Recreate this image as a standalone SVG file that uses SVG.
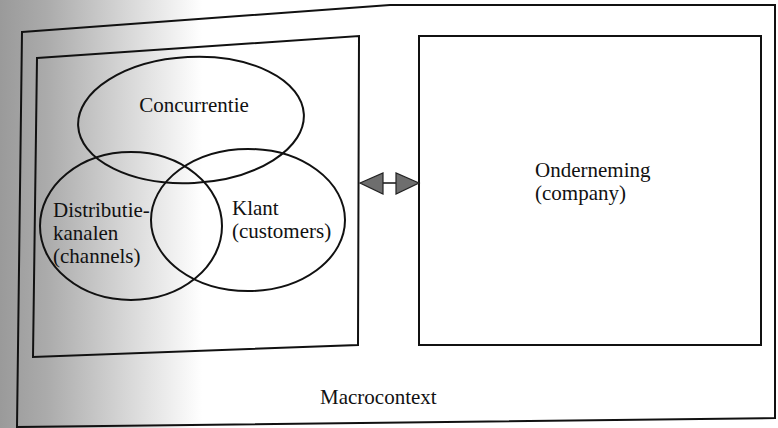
<svg xmlns="http://www.w3.org/2000/svg" width="778" height="428" viewBox="0 0 778 428">
<defs>
<linearGradient id="scan" x1="0" y1="0" x2="1" y2="0">
<stop offset="0" stop-color="#9a9a9a"/>
<stop offset="0.06" stop-color="#ababab"/>
<stop offset="0.17" stop-color="#dadada"/>
<stop offset="0.26" stop-color="#ffffff"/>
<stop offset="1" stop-color="#ffffff"/>
</linearGradient>
<style>
.frame{fill:none;stroke:#111;stroke-width:2}
.ell{fill:none;stroke:#111;stroke-width:2}
.lbl{font-family:"Liberation Serif",serif;font-size:21px;fill:#111}
.head{fill:#6e6e6e;stroke:#222;stroke-width:1.2}
</style>
</defs>
<rect x="0" y="0" width="778" height="428" fill="url(#scan)"/>
<g id="macrocontext">
<path class="frame" d="M22,32 L390,5 L775,5 L775,418 L17,427 Z"/>
<text class="lbl" x="320" y="404">Macrocontext</text>
</g>
<g id="market">
<path class="frame" d="M37,58 L359,36 L358,345 L33,357 Z"/>
</g>
<g id="concurrentie">
<ellipse class="ell" cx="191" cy="120" rx="113" ry="63" transform="rotate(-3 191 120)"/>
<text class="lbl" x="194" y="112" text-anchor="middle">Concurrentie</text>
</g>
<g id="distributie">
<ellipse class="ell" cx="131" cy="226" rx="91" ry="74"/>
<text class="lbl" x="53" y="217">Distributie-</text>
<text class="lbl" x="53" y="240">kanalen</text>
<text class="lbl" x="53" y="263">(channels)</text>
</g>
<g id="klant">
<ellipse class="ell" cx="248" cy="220" rx="97" ry="71"/>
<text class="lbl" x="232" y="215">Klant</text>
<text class="lbl" x="232" y="238">(customers)</text>
</g>
<g id="onderneming">
<rect class="frame" x="419" y="36" width="342" height="309"/>
<text class="lbl" x="535" y="177">Onderneming</text>
<text class="lbl" x="535" y="200">(company)</text>
</g>
<g id="connectors">
<line x1="380" y1="183" x2="398" y2="183" stroke="#111" stroke-width="1.5"/>
<path class="head" d="M360,183 L383,173 L383,194 Z"/>
<path class="head" d="M419,183 L396,173 L396,194 Z"/>
</g>
</svg>
